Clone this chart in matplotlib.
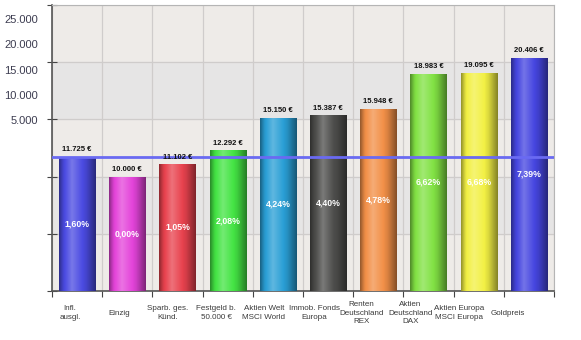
import numpy as np
import matplotlib
matplotlib.use("Agg")
import matplotlib.pyplot as plt
from matplotlib.colors import to_rgb

plt.rcParams['font.family'] = ['Liberation Sans', 'DejaVu Sans']

###### data ######
categories = ["Infl.\nausgl.", "Einzig", "Sparb. ges.\nKünd.", "Festgeld b.\n50.000 €",
              "Aktien Welt\nMSCI World", "Immob. Fonds\nEuropa", "Renten\nDeutschland\nREX",
              "Aktien\nDeutschland\nDAX", "Aktien Europa\nMSCI Europa", "Goldpreis"]
values = [11725, 10000, 11102, 12292, 15150, 15387, 15948, 18983, 19095, 20406]
rates = [1.60, 0.00, 1.05, 2.08, 4.24, 4.40, 4.78, 6.62, 6.68, 7.39]
bar_colors = ['#4b4be2', '#e444da', '#e8424e', '#44e444', '#2a9fd6',
              '#4e4e4c', '#f29048', '#82e244', '#f2f044', '#4646e0']
inflation_line = 11725
# the y labels of the original sit at odd places, not on the gridlines
ylabel_pos = [23776, 21616, 19318, 17133, 14948]
ylabel_text = ["25.000", "20.000", "15.000", "10.000", "5.000"]
# the category labels drift a little to the left of the bars
label_pos = [0.36, 1.33, 2.30, 3.27, 4.22, 5.22, 6.17, 7.14, 8.11, 9.08]


def de_num(v):
    return f"{v:,}".replace(",", ".")


def gradient_row(color, n=64):
    # dark edges, light stripe a bit left of the middle
    base = np.array(to_rgb(color))
    t = np.linspace(0, 1, n)
    f = np.interp(t, [0, 0.12, 0.35, 0.75, 1.0], [0.62, 0.95, 1.25, 0.9, 0.55])
    rows = []
    for k in f:
        if k > 1:
            c = base + (1 - base) * (k - 1)
        else:
            c = base * k
        rows.append(np.clip(c, 0, 1))
    return np.array(rows)[None, :, :]


fig = plt.figure(figsize=(5.81, 3.40), dpi=100)
ax = fig.add_axes([52 / 581, 1 - 291 / 340, 502 / 581, 286 / 340])
ax.set_facecolor('#eeebe8')

# alternating bands
ax.axhspan(5000, 10000, color='#e6e5e5', zorder=0)
ax.axhspan(15000, 20000, color='#e6e5e5', zorder=0)

x = np.arange(len(values)) + 0.5
bars = ax.bar(x, values, width=0.72, color=bar_colors, zorder=3, linewidth=0)

for b, c in zip(bars, bar_colors):
    x0 = b.get_x()
    w = b.get_width()
    h = b.get_height()
    im = ax.imshow(gradient_row(c), extent=[x0, x0 + w, 0, h], aspect='auto',
                   zorder=3.5, interpolation='bilinear')
    im.set_clip_path(b)

ax.axhline(inflation_line, color='#6a6af2', lw=2, zorder=4)

for xi, v, r in zip(x, values, rates):
    ax.annotate(de_num(v) + " €", (xi, v), xytext=(0, 2.5), textcoords='offset points',
                ha='center', va='bottom', fontsize=5.5, fontweight='bold', color='#111111', zorder=6)
    ax.text(xi, v / 2, f"{r:.2f}".replace(".", ",") + "%", ha='center', va='center',
            fontsize=6.3, fontweight='bold', color='white', zorder=6)

ax.set_xlim(0, len(values))
ax.set_ylim(0, 25000)

# gridlines at category borders and every 5000
ax.set_xticks(np.arange(len(values) + 1))
ax.set_xticklabels([])
ax.set_xticks(label_pos, minor=True)
ax.set_xticklabels(categories, minor=True, fontsize=5.8, color='#3a3a3a', va='center', linespacing=1.35)
ax.tick_params(axis='x', which='minor', length=0, pad=16)
ax.tick_params(axis='x', which='major', direction='out', length=4, color='#444444')

ax.set_yticks(np.arange(0, 25001, 5000))
ax.set_yticklabels([])
ax.set_yticks(ylabel_pos, minor=True)
ax.set_yticklabels(ylabel_text, minor=True, fontsize=8, color='#3c3c50')
ax.tick_params(axis='y', which='minor', length=0, pad=10)
ax.tick_params(axis='y', which='major', direction='inout', length=7, color='#444444')

ax.grid(True, which='major', color='#cfcccb', lw=0.9, zorder=1)
ax.set_axisbelow(True)

for s in ['top', 'right']:
    ax.spines[s].set_color('#b5b5b5')
for s in ['left', 'bottom']:
    ax.spines[s].set_color('#555555')
    ax.spines[s].set_linewidth(1.2)

fig.savefig("out.png", dpi=100, facecolor='white')
